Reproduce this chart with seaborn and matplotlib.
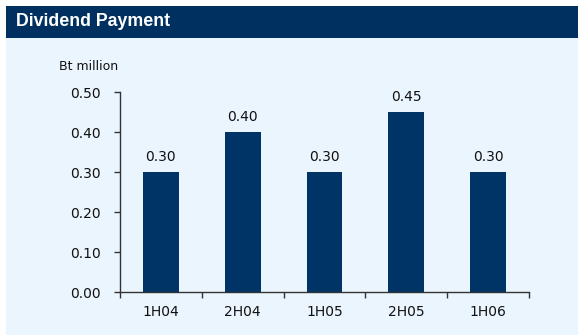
import matplotlib
matplotlib.use("Agg")
import matplotlib.pyplot as plt
import seaborn as sns
import pandas as pd
import numpy as np
from matplotlib.patches import Rectangle
from matplotlib.ticker import FixedLocator

periods = ["1H04", "2H04", "1H05", "2H05", "1H06"]
dividends = [0.30, 0.40, 0.30, 0.45, 0.30]
value_labels = ["0.30", "0.40", "0.30", "0.45", "0.30"]
y_ticks = [0.0, 0.1, 0.2, 0.3, 0.4, 0.5]

sns.set_theme(style="white")
plt.rcParams['font.family'] = ['DejaVu Sans']

W, H = 578, 335
fig = plt.figure(figsize=(W / 100, H / 100), dpi=100)
fig.patch.set_facecolor("white")

navy = "#003366"
header = "#00305F"
light = "#EBF5FE"
txt = "#111111"

# background panels
fig.patches.append(Rectangle((6 / W, 0), 1 - 6 / W, 1 - 38 / H, transform=fig.transFigure,
                             facecolor=light, edgecolor="none", zorder=-5))
fig.patches.append(Rectangle((6 / W, 1 - 38 / H), 1 - 6 / W, 32 / H, transform=fig.transFigure,
                             facecolor=header, edgecolor="none", zorder=-5))
fig.text(16 / W, 1 - 22 / H, "Dividend Payment", color="white", fontsize=12.8,
         fontweight="bold", va="center", ha="left", family=["Liberation Sans", "DejaVu Sans"])

ax = fig.add_axes([120 / W, 1 - 292 / H, (529 - 120) / W, (292 - 92) / H])
ax.set_zorder(2)
ax.set_facecolor("none")

df = pd.DataFrame({"period": periods, "dividend": dividends})
sns.barplot(data=df, x="period", y="dividend", color=navy, width=0.44,
            saturation=1, ax=ax, edgecolor="none")

for i, (v, lab) in enumerate(zip(dividends, value_labels)):
    ax.annotate(lab, (i, v), xytext=(0, 5.5), textcoords="offset points",
                ha="center", va="bottom", fontsize=10, color=txt)

ax.set_xlim(-0.5, len(periods) - 0.5)
ax.set_ylim(0, 0.5)
ax.set_yticks(y_ticks)
ax.set_yticklabels([f"{t:.2f}" for t in y_ticks], fontsize=10, color=txt)
ax.set_xticks(range(len(periods)))
ax.set_xticklabels(periods, fontsize=10, color=txt)
ax.tick_params(axis="x", which="major", length=0, pad=9)
ax.xaxis.set_minor_locator(FixedLocator(np.arange(-0.5, len(periods), 1.0)))
ax.tick_params(axis="x", which="minor", length=4, width=1, color="#333333", direction="out", bottom=True)
ax.tick_params(axis="y", which="major", length=4, width=1, color="#333333", direction="out", left=True, pad=10)
ax.set_xlabel("")
ax.set_ylabel("")
for s in ["top", "right"]:
    ax.spines[s].set_visible(False)
for s in ["left", "bottom"]:
    ax.spines[s].set_color("#333333")
    ax.spines[s].set_linewidth(1)

fig.text(59 / W, 1 - 66 / H, "Bt million", fontsize=9, color=txt, ha="left", va="center")

fig.savefig("out.png", dpi=100, facecolor=fig.get_facecolor())
